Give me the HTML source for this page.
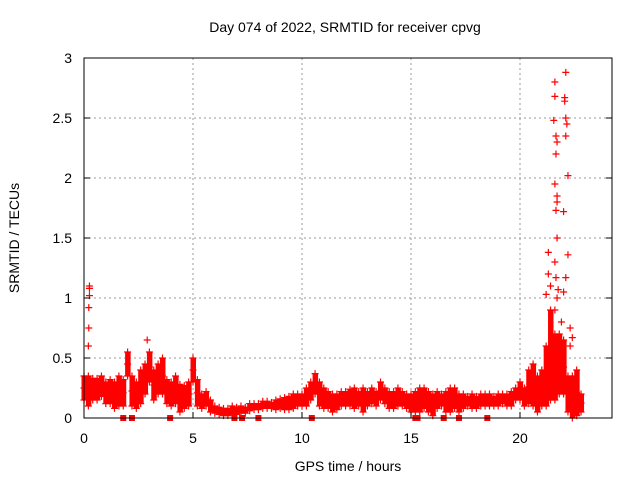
<!DOCTYPE html>
<html><head><meta charset="utf-8"><style>
body{margin:0;background:#fff}
svg{display:block;font-family:"Liberation Sans",sans-serif;font-size:14px}
</style></head><body>
<svg id="c" width="640" height="480">
<text x="345" y="32" text-anchor="middle">Day 074 of 2022, SRMTID for receiver cpvg</text>
<text x="348" y="471" text-anchor="middle">GPS time / hours</text>
<text transform="translate(19,238) rotate(-90)" text-anchor="middle">SRMTID / TECUs</text>
<g id="grid"></g><g id="marks"></g>
<rect x="84" y="58" width="528" height="360" fill="none" stroke="#000"/>
<g id="ticks"></g>
</svg>
<script>
const xTicks=[0,5,10,15,20];
const yTicks=[0,0.5,1,1.5,2,2.5,3];
const yTickLabels=["0","0.5","1","1.5","2","2.5","3"];
const bandTimes=[0,0.2,0.4,0.6,0.8,1,1.2,1.4,1.6,1.8,2,2.2,2.4,2.6,2.8,3,3.2,3.4,3.6,3.8,4,4.2,4.4,4.6,4.8,5,5.2,5.4,5.6,5.8,6,6.2,6.4,6.6,6.8,7,7.2,7.4,7.6,7.8,8,8.2,8.4,8.6,8.8,9,9.2,9.4,9.6,9.8,10,10.2,10.4,10.6,10.8,11,11.2,11.4,11.6,11.8,12,12.2,12.4,12.6,12.8,13,13.2,13.4,13.6,13.8,14,14.2,14.4,14.6,14.8,15,15.2,15.4,15.6,15.8,16,16.2,16.4,16.6,16.8,17,17.2,17.4,17.6,17.8,18,18.2,18.4,18.6,18.8,19,19.2,19.4,19.6,19.8,20,20.2,20.4,20.6,20.8,21,21.2,21.4,21.6,21.8,22,22.2,22.4,22.6,22.8];
const bandLo=[.15,.1,.15,.15,.18,.12,.12,.08,.1,.1,.35,.1,.08,.12,.2,.3,.15,.2,.2,.12,.1,.12,.05,.08,.1,.3,.1,.08,.1,.05,.04,.03,.02,.02,.03,.03,.04,.04,.06,.07,.07,.08,.08,.08,.07,.08,.07,.07,.08,.1,.1,.1,.15,.2,.1,.08,.08,.05,.07,.1,.1,.1,.08,.1,.05,.1,.12,.1,.15,.12,.08,.08,.1,.1,.08,.05,.05,.05,.08,.05,.02,.08,.1,.05,.05,.08,.05,.08,.1,.08,.08,.1,.1,.1,.1,.1,.12,.1,.1,.15,.15,.1,.12,.1,.05,.1,.1,.15,.15,.2,.2,.05,0,.02,.05];
const bandHi=[.35,.35,.33,.33,.35,.3,.32,.3,.35,.32,.55,.35,.3,.4,.45,.55,.4,.45,.5,.32,.3,.35,.28,.27,.3,.5,.32,.2,.22,.15,.1,.09,.08,.08,.1,.09,.1,.09,.12,.12,.12,.14,.14,.13,.15,.16,.17,.18,.2,.2,.2,.25,.3,.37,.3,.25,.22,.2,.2,.22,.22,.24,.25,.22,.25,.22,.25,.22,.3,.25,.22,.22,.25,.22,.2,.2,.22,.25,.25,.22,.2,.22,.2,.22,.25,.25,.2,.2,.18,.2,.18,.2,.2,.2,.18,.2,.2,.2,.22,.25,.3,.25,.4,.45,.35,.4,.6,.9,.7,.7,.65,.35,.35,.4,.2];
const spikeT=[0.25,0.25,0.25,0.22,0.22,0.2,2.9,21.3,21.4,21.3,21.2,21.6,21.6,21.55,21.65,21.7,21.65,21.6,21.7,21.7,21.65,21.7,21.6,21.65,21.75,21.7,21.6,21.9,22.1,22.05,22.05,22.1,22.15,22.1,22.2,22.0,22.2,22.1,22.0,22.3,22.4,22.3];
const spikeV=[1.1,1.08,1.02,.92,.75,.6,.65,1.38,1.1,1.2,1.03,2.8,2.68,2.48,2.35,2.3,2.2,1.95,1.85,1.8,1.73,1.5,1.3,1.17,1.07,1,.9,.8,2.88,2.67,2.64,2.5,2.45,2.35,2.02,1.72,1.36,1.17,1.05,.75,.67,.6];
const zeroT=[1.8,2.2,3.95,6.9,7.25,8.0,10.45,15.2,15.3,16.5,17.2,18.5];
const X=t=>84+t*21.8, Y=v=>418-v*120;
const NS="http://www.w3.org/2000/svg";
function mk(tag,at,p){const e=document.createElementNS(NS,tag);for(const k in at)e.setAttribute(k,at[k]);p.appendChild(e);return e;}
const grid=document.getElementById('grid'),ticks=document.getElementById('ticks'),marks=document.getElementById('marks');
xTicks.forEach(t=>{const x=X(t);
 if(t>0){const g=mk('line',{x1:x,y1:58,x2:x,y2:418,stroke:'#999','stroke-dasharray':'2,3'},grid);
 
 }
 mk('line',{x1:x,y1:418,x2:x,y2:412,stroke:'#000'},ticks);
 const l=mk('text',{x:x,y:443,'text-anchor':'middle'},ticks);l.textContent=t;
 
 });
yTicks.forEach((v,i)=>{const y=Y(v);
 if(v>0&&v<3){const g=mk('line',{x1:84,y1:y,x2:612,y2:y,stroke:'#999','stroke-dasharray':'2,3'},grid);
 
 }
 mk('line',{x1:84,y1:y,x2:90,y2:y,stroke:'#000'},ticks);
 mk('line',{x1:612,y1:y,x2:606,y2:y,stroke:'#000'},ticks);
 const l=mk('text',{x:72,y:y+5,'text-anchor':'end'},ticks);l.textContent=yTickLabels[i];
 
 });
function plus(t,v,name){const x=X(t),y=Y(v);
 const p=mk('path',{d:`M${x-3.5},${y}h7M${x},${y-3.5}v7`,stroke:'#f00','stroke-width':1.2,fill:'none'},marks);
 
 }
bandTimes.forEach((t,i)=>{
 const r=mk('rect',{x:X(t)-2.5,y:Y(bandHi[i]),width:5.5,height:Y(bandLo[i])-Y(bandHi[i]),fill:'#f00'},marks);
 
 
 plus(t,bandLo[i],'data-point');plus(t,bandHi[i],'data-point');plus(t,(bandLo[i]+bandHi[i])/2,'data-point');});
spikeT.forEach((t,i)=>plus(t,spikeV[i],'spike-point'));
zeroT.forEach(t=>{const r=mk('rect',{x:X(t)-3,y:415,width:6,height:6,fill:'#f00'},marks);
 
 });
</script>
</body></html>
